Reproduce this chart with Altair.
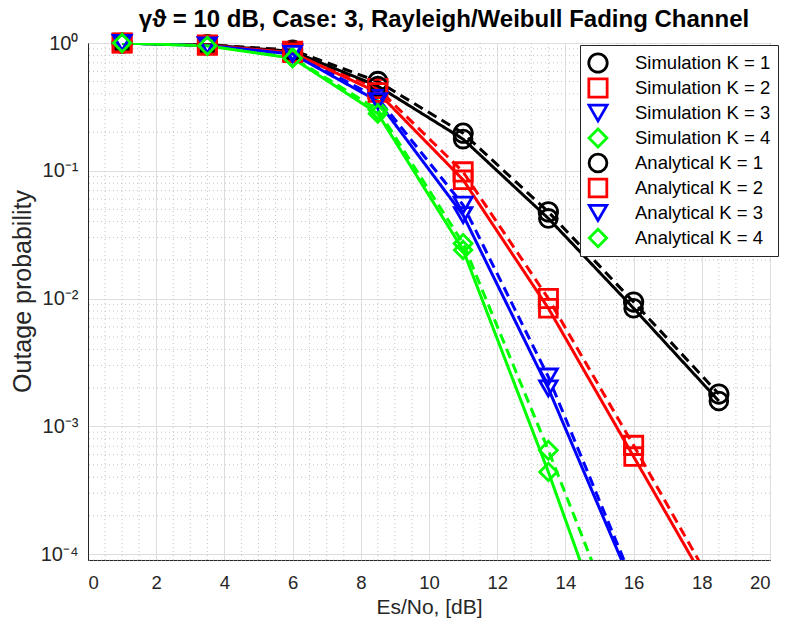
import altair as alt
import pandas as pd

# ---- data ----
es_no = [1, 3.5, 6, 8.5, 11, 13.5, 16, 18.5]

sim_k1 = [1.0, 0.97, 0.88, 0.50, 0.197, 0.0477, 0.0094, 0.00179]
sim_k2 = [1.0, 0.965, 0.86, 0.44, 0.098, 0.0100, 0.00071, 0.000047]
sim_k3 = [1.0, 0.96, 0.84, 0.37, 0.054, 0.00244, 0.000059, 0.0000016]
sim_k4 = [1.0, 0.955, 0.77, 0.30, 0.027, 0.00065, 0.000013, 0.00000006]

ana_k1 = [1.0, 0.965, 0.86, 0.46, 0.177, 0.0424, 0.0084, 0.00158]
ana_k2 = [1.0, 0.96, 0.84, 0.41, 0.085, 0.0084, 0.00058, 0.000040]
ana_k3 = [1.0, 0.955, 0.82, 0.35, 0.045, 0.00198, 0.000054, 0.0000013]
ana_k4 = [1.0, 0.95, 0.76, 0.28, 0.024, 0.00044, 0.000006, 0.00000002]

series_names = [
    "Simulation K = 1", "Simulation K = 2", "Simulation K = 3", "Simulation K = 4",
    "Analytical K = 1", "Analytical K = 2", "Analytical K = 3", "Analytical K = 4",
]
series_kinds = ["Simulation"] * 4 + ["Analytical"] * 4
series_values = [sim_k1, sim_k2, sim_k3, sim_k4, ana_k1, ana_k2, ana_k3, ana_k4]

series_colors = ["#000000", "#ff0000", "#0000ff", "#00ff00"] * 2
series_shapes = ["circle", "square", "triangle-down", "diamond"] * 2
series_sizes = [340, 300, 560, 420] * 2

x_major = [0, 2, 4, 6, 8, 10, 12, 14, 16, 18, 20]
y_major = [1e-4, 1e-3, 1e-2, 1e-1, 1]
x_minor = [v / 2 for v in range(1, 40) if v % 4 != 0]
y_min, y_max = 9e-5, 1.0
y_minor = [m * 10.0 ** e for e in range(-5, 0) for m in range(2, 10)
           if y_min <= m * 10.0 ** e <= y_max]

title_text = "γϑ = 10 dB, Case: 3, Rayleigh/Weibull Fading Channel"

# ---- tables ----
rows = []
for name, kind, hexc, vals in zip(series_names, series_kinds, series_colors, series_values):
    for xv, pv in zip(es_no, vals):
        rows.append({"x": xv, "p": pv, "series": name, "kind": kind, "hex": hexc})
df = pd.DataFrame(rows)
df_pts = df[df["p"] >= y_min]

FONT = "Liberation Sans"
INK = "#262626"

x_scale = alt.Scale(domain=[0, 20], nice=False, zero=False)
y_scale = alt.Scale(type="log", domain=[y_min, y_max], nice=False)

y_label_expr = ("datum.value >= 0.5 ? '10⁰' : datum.value >= 0.05 ? '10⁻¹' : "
                "datum.value >= 0.005 ? '10⁻²' : datum.value >= 0.0005 ? '10⁻³' : '10⁻⁴'")

x_axis = alt.Axis(values=x_major, title="Es/No, [dB]", grid=True, ticks=False,
                  labelPadding=13, labelFontSize=18.5, titleFontSize=21,
                  titleY=47, titleBaseline="middle")
y_axis = alt.Axis(values=y_major, labelExpr=y_label_expr, title="Outage probability",
                  grid=True, ticks=False, labelPadding=10, labelFontSize=20,
                  titleFontSize=25, titleX=-66, titleY=248, titleBaseline="middle")

X = alt.X("x:Q", scale=x_scale, axis=x_axis)
Y = alt.Y("p:Q", scale=y_scale, axis=y_axis)

vgrid = alt.Chart(pd.DataFrame({"x": x_minor})).mark_rule(
    color="#c4c4c4", strokeDash=[1, 3], strokeWidth=1
).encode(x=X)

hgrid = alt.Chart(pd.DataFrame({"p": y_minor})).mark_rule(
    color="#c4c4c4", strokeDash=[1, 3], strokeWidth=1
).encode(y=Y)

color_scale = alt.Scale(domain=series_names, range=series_colors)
shape_scale = alt.Scale(domain=series_names, range=series_shapes)
size_scale = alt.Scale(domain=series_names, range=series_sizes)

lines = alt.Chart(df).mark_line(strokeWidth=3, clip=True).encode(
    x=X, y=Y,
    stroke=alt.Stroke("hex:N", scale=None),
    strokeDash=alt.StrokeDash("kind:N", scale=alt.Scale(domain=["Simulation", "Analytical"],
                                                        range=[[10, 6], [1, 0]]), legend=None),
    detail="series:N",
    order="x:Q",
)

legend = alt.Legend(title=None, orient="none", legendX=492, legendY=2, direction="vertical",
                    fillColor="white", strokeColor=INK, padding=7, rowPadding=3,
                    clipHeight=22, labelFont=FONT, labelFontSize=18.5, labelColor="#000000",
                    labelOffset=26, symbolStrokeWidth=2.8,
                    symbolFillColor="transparent", labelLimit=300)

points = alt.Chart(df_pts).mark_point(filled=False, strokeWidth=2.8,
                                      opacity=1, clip=False).encode(
    x=X, y=Y,
    color=alt.Color("series:N", scale=color_scale, legend=legend),
    shape=alt.Shape("series:N", scale=shape_scale, legend=legend),
    size=alt.Size("series:N", scale=size_scale, legend=legend),
)

chart = alt.layer(vgrid, hgrid, lines, points).properties(
    width=682, height=517,
    autosize=alt.AutoSizeParams(type="none"),
    padding={"left": 80, "top": 35, "right": 13, "bottom": 59},
    title=alt.Title(title_text, anchor="middle", dx=15, dy=7, offset=3, fontSize=24,
                    fontWeight="bold", font=FONT, color="#000000"),
).configure_view(
    stroke=INK, strokeWidth=1
).configure_axis(
    labelFont=FONT, titleFont=FONT,
    labelColor=INK, titleColor=INK, titleFontWeight="normal",
    gridColor="#dedede", gridWidth=1, domainColor=INK, domainWidth=1,
)

chart.save("out.html", embed_options={"renderer": "svg", "actions": False})
